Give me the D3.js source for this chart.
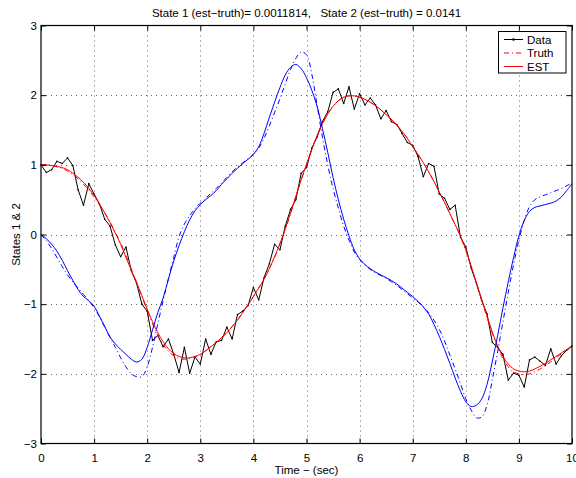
<!DOCTYPE html>
<html>
<head>
<meta charset="utf-8">
<script src="https://cdn.jsdelivr.net/npm/d3@7"></script>
<style>
  body { margin: 0; background: #fff; }
  svg { font-family: "Liberation Sans", Arial, Helvetica, sans-serif; }
</style>
</head>
<body>
<svg width="576" height="478"></svg>
<script>
// time base, 0 .. 10 s in 0.1 s steps
var time = d3.range(0, 101).map(function(i) { return i / 10; });

// state 1 : noisy measurement
var data1 = [
  1.00, 0.89, 0.93, 1.05, 1.02, 1.10, 0.99, 0.64, 0.42, 0.73,
  0.58, 0.44, 0.22, 0.12, -0.15, -0.32, -0.18, -0.52, -0.70, -1.00,
  -1.10, -1.52, -1.45, -1.61, -1.50, -1.72, -1.98, -1.62, -1.99, -1.76,
  -1.86, -1.50, -1.72, -1.54, -1.52, -1.33, -1.50, -1.15, -1.10, -1.02,
  -0.76, -0.94, -0.62, -0.42, -0.14, -0.22, 0.12, 0.36, 0.50, 0.88,
  0.96, 1.24, 1.40, 1.62, 1.76, 2.04, 2.09, 1.88, 2.12, 1.80,
  2.02, 1.86, 1.96, 1.86, 1.66, 1.78, 1.62, 1.58, 1.45, 1.32,
  1.28, 1.12, 0.83, 1.02, 0.98, 0.58, 0.52, 0.36, 0.42, -0.04,
  -0.18, -0.48, -0.70, -0.95, -1.14, -1.55, -1.62, -1.72, -2.09, -1.99,
  -2.02, -2.19, -1.80, -1.76, -1.82, -1.88, -1.64, -1.86, -1.74, -1.66,
  -1.60
];

// state 1 : truth
var truth1 = [
  1.00, 1.00, 0.99, 0.97, 0.95, 0.91, 0.86, 0.80, 0.72, 0.64,
  0.54, 0.43, 0.31, 0.18, 0.03, -0.12, -0.30, -0.49, -0.69, -0.89,
  -1.09, -1.28, -1.45, -1.58, -1.68, -1.74, -1.78, -1.79, -1.78, -1.76,
  -1.72, -1.67, -1.61, -1.55, -1.48, -1.41, -1.32, -1.23, -1.12, -1.01,
  -0.89, -0.77, -0.64, -0.49, -0.32, -0.13, 0.07, 0.30, 0.54, 0.78,
  1.00, 1.22, 1.42, 1.59, 1.73, 1.84, 1.92, 1.97, 1.99, 1.99,
  1.97, 1.94, 1.90, 1.85, 1.79, 1.72, 1.65, 1.57, 1.48, 1.38,
  1.26, 1.15, 1.03, 0.90, 0.76, 0.61, 0.46, 0.30, 0.14, -0.03,
  -0.23, -0.46, -0.70, -0.95, -1.19, -1.42, -1.62, -1.78, -1.90, -1.97,
  -2.00, -2.01, -2.00, -1.97, -1.93, -1.88, -1.83, -1.77, -1.71, -1.66,
  -1.61
];

// state 1 : estimate
var est1 = [
  1.00, 1.00, 0.99, 0.98, 0.96, 0.93, 0.88, 0.82, 0.75, 0.66,
  0.56, 0.44, 0.31, 0.17, 0.02, -0.14, -0.33, -0.51, -0.69, -0.88,
  -1.07, -1.25, -1.41, -1.54, -1.64, -1.71, -1.75, -1.77, -1.77, -1.75,
  -1.72, -1.67, -1.61, -1.55, -1.48, -1.41, -1.32, -1.23, -1.12, -1.01,
  -0.89, -0.77, -0.64, -0.49, -0.32, -0.13, 0.08, 0.31, 0.55, 0.79,
  1.01, 1.22, 1.42, 1.59, 1.73, 1.84, 1.92, 1.97, 1.99, 1.99,
  1.97, 1.94, 1.90, 1.85, 1.79, 1.72, 1.65, 1.57, 1.48, 1.38,
  1.26, 1.15, 1.03, 0.90, 0.76, 0.61, 0.46, 0.30, 0.14, -0.02,
  -0.22, -0.45, -0.69, -0.93, -1.17, -1.40, -1.60, -1.75, -1.86, -1.93,
  -1.96, -1.97, -1.96, -1.93, -1.89, -1.85, -1.80, -1.75, -1.70, -1.65,
  -1.60
];

// state 2 : truth
var truth2 = [
  0.00, -0.09, -0.20, -0.33, -0.46, -0.58, -0.68, -0.77, -0.86, -0.95,
  -1.05, -1.18, -1.33, -1.48, -1.62, -1.77, -1.90, -2.00, -2.04, -2.04,
  -1.90, -1.62, -1.28, -0.95, -0.63, -0.33, -0.03, 0.15, 0.27, 0.37,
  0.45, 0.52, 0.59, 0.66, 0.74, 0.82, 0.90, 0.97, 1.03, 1.09,
  1.15, 1.24, 1.38, 1.56, 1.75, 1.95, 2.16, 2.37, 2.53, 2.62,
  2.58, 2.30, 1.85, 1.40, 1.00, 0.66, 0.38, 0.12, -0.08, -0.25,
  -0.36, -0.44, -0.50, -0.55, -0.59, -0.63, -0.68, -0.73, -0.79, -0.85,
  -0.91, -0.97, -1.04, -1.12, -1.23, -1.36, -1.53, -1.73, -1.93, -2.14,
  -2.36, -2.52, -2.63, -2.62, -2.45, -2.08, -1.68, -1.25, -0.83, -0.43,
  -0.08, 0.20, 0.40, 0.50, 0.54, 0.57, 0.60, 0.63, 0.66, 0.70,
  0.74
];

// state 2 : estimate
var est2 = [
  0.00, -0.06, -0.14, -0.24, -0.37, -0.52, -0.66, -0.79, -0.89, -0.95,
  -1.03, -1.17, -1.32, -1.47, -1.57, -1.65, -1.72, -1.79, -1.83, -1.79,
  -1.62, -1.37, -1.12, -0.91, -0.64, -0.38, -0.16, 0.04, 0.21, 0.34,
  0.43, 0.50, 0.56, 0.63, 0.72, 0.80, 0.88, 0.95, 1.02, 1.08,
  1.15, 1.26, 1.45, 1.68, 1.90, 2.11, 2.29, 2.40, 2.44, 2.38,
  2.25, 2.07, 1.84, 1.52, 1.18, 0.82, 0.50, 0.22, -0.02, -0.22,
  -0.35, -0.43, -0.49, -0.54, -0.58, -0.62, -0.66, -0.71, -0.77, -0.83,
  -0.89, -0.96, -1.04, -1.14, -1.29, -1.46, -1.65, -1.85, -2.06, -2.25,
  -2.40, -2.47, -2.45, -2.36, -2.15, -1.82, -1.45, -1.05, -0.68, -0.33,
  -0.02, 0.20, 0.33, 0.39, 0.41, 0.43, 0.45, 0.48, 0.54, 0.63,
  0.73
];

var xTicks = d3.range(0, 11);
var yTicks = d3.range(-3, 4);
var legendNames = ["Data", "Truth", "EST"];

var svg = d3.select("svg");
var pLeft = 41, pRight = 572, pTop = 25.5, pBottom = 443.5;

var x = d3.scaleLinear().domain([0, 10]).range([pLeft, pRight]);
var y = d3.scaleLinear().domain([-3, 3]).range([pBottom, pTop]);

var dashDot = "5,3,1,3";

// grid
var grid = svg.append("g").attr("class", "grid")
  .attr("stroke", "#666").attr("stroke-width", 1).attr("stroke-dasharray", "1,4");
grid.selectAll("line.gx").data(xTicks.slice(1, -1)).enter().append("line")
  .attr("x1", function(d) { return Math.round(x(d)) + 0.5; })
  .attr("x2", function(d) { return Math.round(x(d)) + 0.5; })
  .attr("y1", pTop).attr("y2", pBottom);
grid.selectAll("line.gy").data(yTicks.slice(1, -1)).enter().append("line")
  .attr("y1", function(d) { return Math.round(y(d)) + 0.5; })
  .attr("y2", function(d) { return Math.round(y(d)) + 0.5; })
  .attr("x1", pLeft).attr("x2", pRight);

function series(vals) {
  return vals.map(function(v, i) { return [time[i], v]; });
}
var smooth = d3.line().x(function(d) { return x(d[0]); }).y(function(d) { return y(d[1]); })
  .curve(d3.curveCatmullRom);
var straight = d3.line().x(function(d) { return x(d[0]); }).y(function(d) { return y(d[1]); });

var plot = svg.append("g").attr("fill", "none").attr("stroke-width", 1);

plot.append("path").datum(series(data1)).attr("d", straight).attr("stroke", "#000");
plot.selectAll("circle").data(series(data1)).enter().append("circle")
  .attr("cx", function(d) { return x(d[0]); })
  .attr("cy", function(d) { return y(d[1]); })
  .attr("r", 0.8).attr("fill", "#000").attr("stroke", "none");
plot.append("path").datum(series(truth1)).attr("d", smooth)
  .attr("stroke", "#ff0000").attr("stroke-dasharray", dashDot);
plot.append("path").datum(series(est1)).attr("d", smooth).attr("stroke", "#ff0000");
plot.append("path").datum(series(truth2)).attr("d", smooth)
  .attr("stroke", "#0000ff").attr("stroke-dasharray", dashDot);
plot.append("path").datum(series(est2)).attr("d", smooth).attr("stroke", "#0000ff");

// axes, ticks inside on all four sides
var fmt = d3.format("d");
svg.append("g").attr("transform", "translate(0," + pBottom + ")")
  .call(d3.axisBottom(x).tickValues(xTicks).tickSize(-5).tickPadding(10).tickFormat(fmt));
svg.append("g").attr("transform", "translate(0," + pTop + ")")
  .call(d3.axisTop(x).tickValues(xTicks).tickSize(-5).tickFormat(""));
svg.append("g").attr("transform", "translate(" + pLeft + ",0)")
  .call(d3.axisLeft(y).tickValues(yTicks).tickSize(-5).tickPadding(4).tickFormat(fmt));
svg.append("g").attr("transform", "translate(" + pRight + ",0)")
  .call(d3.axisRight(y).tickValues(yTicks).tickSize(-5).tickFormat(""));
svg.selectAll(".tick text").attr("font-size", 11.5).attr("font-family", null).attr("fill", "#000");
svg.selectAll(".domain").remove();

svg.append("rect").attr("x", pLeft).attr("y", pTop)
  .attr("width", pRight - pLeft).attr("height", pBottom - pTop)
  .attr("fill", "none").attr("stroke", "#000").attr("stroke-width", 1.2);

// titles
svg.append("text").attr("x", (pLeft + pRight) / 2).attr("y", 17)
  .attr("text-anchor", "middle").attr("font-size", 11.5).style("white-space", "pre")
  .text("State 1 (est\u2212truth)= 0.0011814,   State 2 (est\u2212truth) = 0.0141");
svg.append("text").attr("x", (pLeft + pRight) / 2).attr("y", 474)
  .attr("text-anchor", "middle").attr("font-size", 11.5)
  .text("Time \u2212 (sec)");
svg.append("text").attr("transform", "translate(19.5," + ((pTop + pBottom) / 2) + ") rotate(-90)")
  .attr("text-anchor", "middle").attr("font-size", 11.5)
  .text("States 1 & 2");

// legend
var lg = svg.append("g").attr("transform", "translate(498.5,31.5)");
lg.append("rect").attr("width", 67.5).attr("height", 41.5)
  .attr("fill", "#fff").attr("stroke", "#000").attr("stroke-width", 1);
var items = lg.selectAll("g").data(legendNames).enter().append("g")
  .attr("transform", function(d, i) { return "translate(0," + (8 + i * 13.5) + ")"; });
items.append("line").attr("x1", 5.5).attr("x2", 24.5).attr("y1", 0).attr("y2", 0)
  .attr("stroke", function(d, i) { return i ? "#ff0000" : "#000"; })
  .attr("stroke-dasharray", function(d, i) { return i == 1 ? dashDot : null; });
items.filter(function(d, i) { return i == 0; }).append("circle")
  .attr("cx", 15).attr("cy", 0).attr("r", 1.3).attr("fill", "#000");
items.append("text").attr("x", 28.5).attr("y", 4).attr("font-size", 11.5)
  .text(function(d) { return d; });
</script>
</body>
</html>
